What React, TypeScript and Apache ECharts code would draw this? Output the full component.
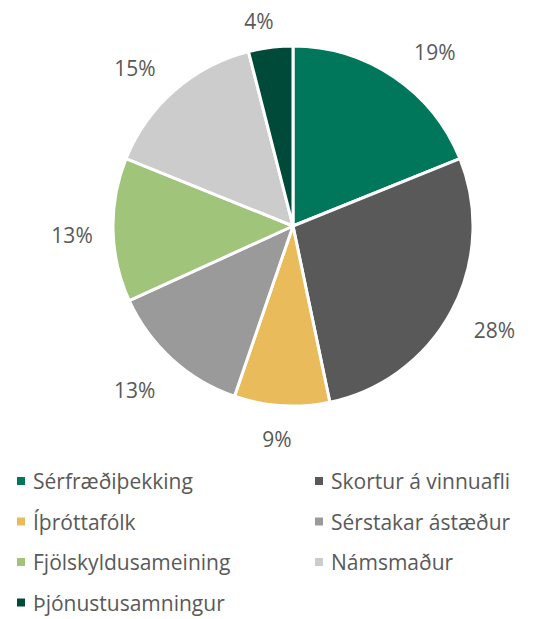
import React, { useEffect, useRef } from "react";
import * as echarts from "echarts";

const categories = [
  "Sérfræðiþekking",
  "Skortur á vinnuafli",
  "Íþróttafólk",
  "Sérstakar ástæður",
  "Fjölskyldusameining",
  "Námsmaður",
  "Þjónustusamningur",
];
const values = [19, 28, 8.6, 13, 13, 15, 4];
const colors = ["#00775A", "#595959", "#E9BB5A", "#9A9A9A", "#A1C47B", "#CCCCCC", "#004A3A"];

const leftLegend = [categories[0], categories[2], categories[4], categories[6]];
const rightLegend = [categories[1], categories[3], categories[5]];

// small nudges of the percentage labels, matching the reference placement
const labelNudge = [
  [16, 13],
  [3, -2],
  [-2, -12],
  [-7, -3],
  [4, 4],
  [-10, 11],
  [-6, 18],
];

const FONT = "'Open Sans', 'Noto Sans', sans-serif";

export default function App() {
  const ref = useRef<HTMLDivElement>(null);
  useEffect(() => {
    document.body.style.margin = "0";
    if (!ref.current) return;
    const chart = echarts.init(ref.current, undefined, { renderer: "svg" });
    const total = values.reduce((a, b) => a + b, 0);
    const data = categories.map((name, i) => ({ name, value: values[i], itemStyle: { color: colors[i] } }));
    const legendCommon = {
      orient: "vertical" as const,
      top: 470,
      bottom: 0,
      padding: 0,
      icon: "rect",
      itemWidth: 10,
      itemHeight: 10,
      itemGap: 18.5,
      textStyle: { color: "#595959", fontSize: 21, fontFamily: FONT, padding: [0, 0, 0, 2], lineHeight: 22 },
    };
    chart.setOption({
      animation: false,
      textStyle: { fontFamily: FONT },
      legend: [
        { ...legendCommon, left: 15, data: leftLegend },
        { ...legendCommon, left: 313, data: rightLegend },
      ],
      series: [
        {
          type: "pie",
          center: [293, 226],
          radius: [0, 180],
          startAngle: 90,
          clockwise: true,
          data,
          itemStyle: { borderColor: "#ffffff", borderWidth: 3 },
          label: { show: false },
          labelLine: { show: false },
          emphasis: { disabled: true },
        },
        {
          type: "pie",
          center: [293, 226],
          radius: [180, 264],
          startAngle: 90,
          clockwise: true,
          silent: true,
          data: categories.map((name, i) => ({ name, value: values[i], itemStyle: { color: "rgba(0,0,0,0)" } })),
          itemStyle: { borderWidth: 0 },
          label: {
            show: true,
            position: "inside",
            color: "#595959",
            fontSize: 21,
            fontFamily: FONT,
            formatter: (p: any) => Math.round((p.value / total) * 100) + "%",
          },
          labelLayout: (p: any) => {
            const n = labelNudge[p.dataIndex] || [0, 0];
            return { dx: n[0], dy: n[1] };
          },
          labelLine: { show: false },
          emphasis: { disabled: true },
        },
      ],
    });
    return () => chart.dispose();
  }, []);
  return <div ref={ref} style={{ width: 557, height: 619 }} />;
}
